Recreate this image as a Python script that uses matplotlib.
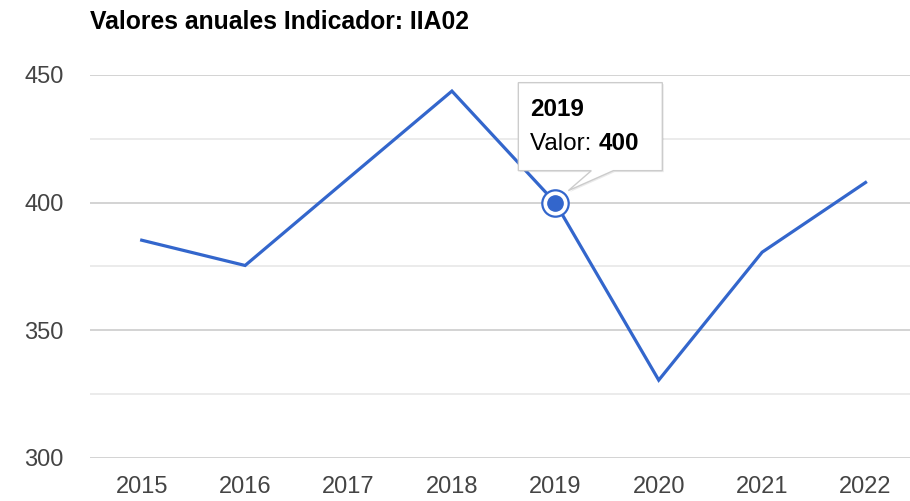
import matplotlib
matplotlib.use('Agg')
import matplotlib.pyplot as plt
from matplotlib.patches import Polygon
from matplotlib.transforms import ScaledTranslation

# data
years = ['2015', '2016', '2017', '2018', '2019', '2020', '2021', '2022']
valores = [385.3, 375.4, 409.6, 443.7, 400, 330.5, 380.6, 407.9]
highlight = 4  # index of the year shown in the tooltip
major_ticks = [300, 350, 400, 450]
minor_ticks = [325, 375, 425]

BLUE = '#3366CC'

plt.rcParams['font.family'] = ['Liberation Sans', 'DejaVu Sans']

fig = plt.figure(figsize=(9.10, 5.01), dpi=100)
ax = fig.add_axes([90 / 910, 1 - 458 / 501, 820 / 910, (458 - 75) / 501])

x = list(range(len(years)))

# grid lines
for v in minor_ticks:
    ax.axhline(v, color='#e8e8e8', lw=1.2, zorder=0)
for v in major_ticks:
    ax.axhline(v, color='#cccccc', lw=1.2, zorder=0)

ax.plot(x, valores, color=BLUE, lw=2.3, zorder=3, solid_joinstyle='miter')

# highlighted point
hx, hy = x[highlight], valores[highlight]
ax.plot(hx, hy, 'o', ms=19, mfc='white', mec=BLUE, mew=1.6, zorder=4, clip_on=False)
ax.plot(hx, hy, 'o', ms=11, mfc=BLUE, mec=BLUE, zorder=5, clip_on=False)

ax.set_xlim(-0.5, 7.43)
ax.set_ylim(300, 450)
ax.set_xticks(x)
ax.set_xticklabels(years)
ax.set_yticks(major_ticks)
ax.tick_params(axis='both', length=0, labelsize=17, labelcolor='#444444')
ax.tick_params(axis='y', pad=19)
ax.tick_params(axis='x', pad=13)
for s in ax.spines.values():
    s.set_visible(False)

fig.text(90 / 910, 1 - 22 / 501, 'Valores anuales Indicador: IIA02',
         fontsize=17.8, fontweight='bold', color='#000000', va='center', ha='left')

# tooltip, positioned in inches relative to the highlighted point
tt = fig.dpi_scale_trans + ScaledTranslation(hx, hy, ax.transData)
shape = [(-0.37, 0.32), (0.36, 0.32), (0.13, 0.12), (0.58, 0.32),
         (1.07, 0.32), (1.07, 1.20), (-0.37, 1.20)]
shadow = Polygon([(a + 0.015, b - 0.015) for a, b in shape], closed=True,
                 facecolor='#000000', alpha=0.08, edgecolor='none',
                 transform=tt, zorder=6, clip_on=False)
box = Polygon(shape, closed=True, facecolor='white', edgecolor='#cccccc',
              lw=1.0, transform=tt, zorder=7, clip_on=False)
ax.add_patch(shadow)
ax.add_patch(box)

ax.text(-0.25, 0.87, years[highlight], transform=tt, fontsize=17.5,
        fontweight='bold', color='#000000', va='baseline', zorder=8)
t_val = ax.text(-0.25, 0.53, 'Valor: ', transform=tt, fontsize=17.5,
                color='#000000', va='baseline', zorder=8)
ax.annotate(f'{valores[highlight]:.0f}', xy=(1, 0), xycoords=t_val,
            fontsize=17.5, fontweight='bold', color='#000000',
            ha='left', va='bottom', zorder=8)

fig.savefig('out.png', dpi=100)
